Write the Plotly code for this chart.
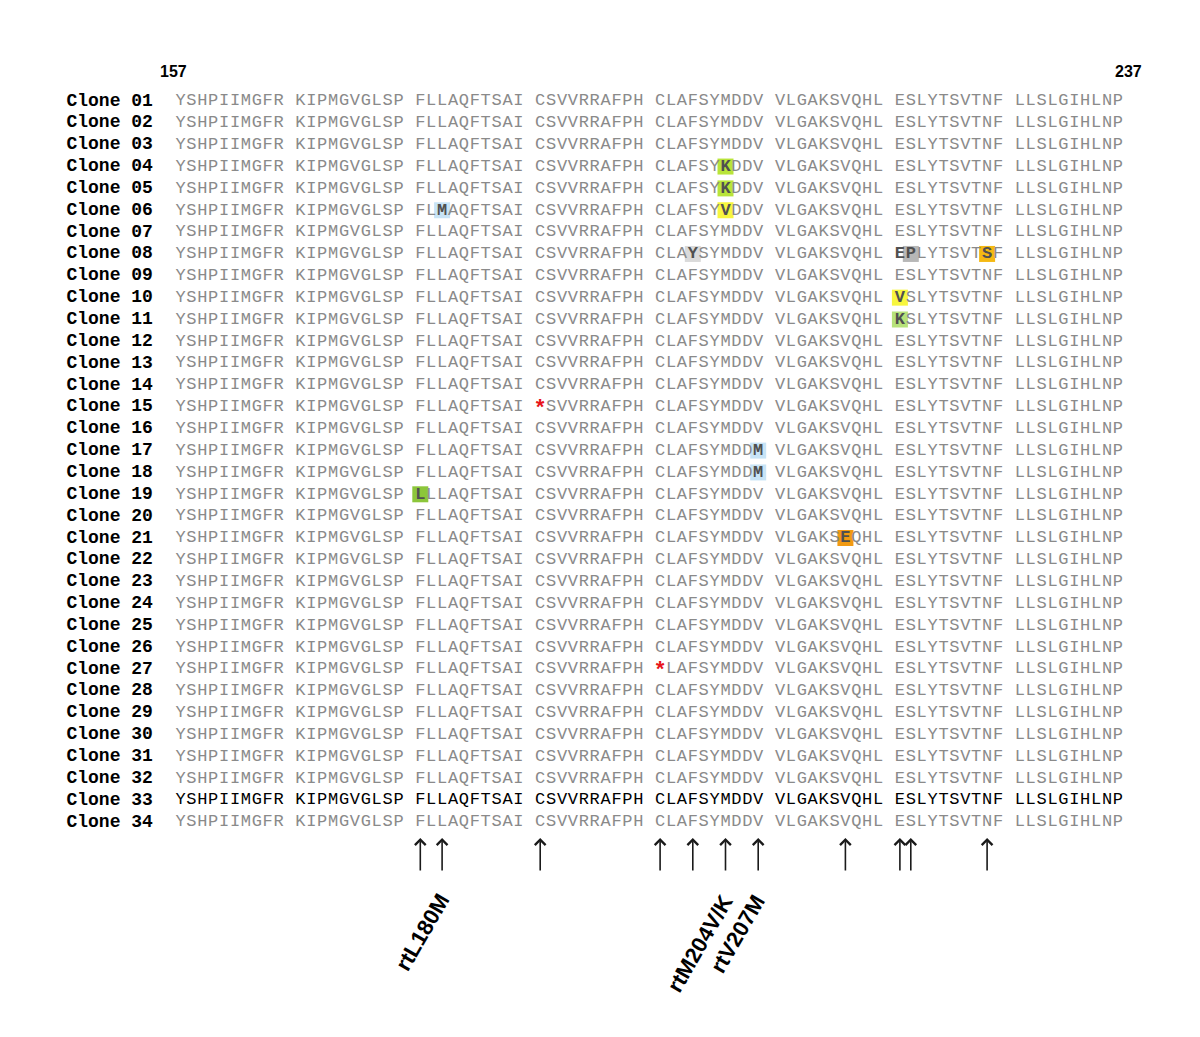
import plotly.graph_objects as go

# =============================================================================
# DATA
# =============================================================================

# consensus RT sequence, 80 residues shown in blocks of ten
SEQUENCE = ("YSHPIIMGFR" "KIPMGVGLSP" "FLLAQFTSAI" "CSVVRRAFPH"
            "CLAFSYMDDV" "VLGAKSVQHL" "ESLYTSVTNF" "LLSLGIHLNP")
CLONE_NUMBERS = list(range(1, 35))
REFERENCE_CLONE = 33          # printed in black
START_LABEL = "157"
END_LABEL = "237"

# substitutions (clone, residue index in SEQUENCE, new amino acid, highlight)
SUB_CLONE = [4, 5, 6, 6, 8, 8, 8, 10, 11, 17, 18, 19, 21]
SUB_RESIDUE = [46, 46, 22, 46, 43, 61, 68, 60, 60, 49, 49, 20, 56]
SUB_AA = ['K', 'K', 'M', 'V', 'Y', 'P', 'S', 'V', 'K', 'M', 'M', 'L', 'E']
SUB_GROUP = ['lime', 'lime', 'blue', 'yellow', 'grey', 'darkgrey', 'gold',
             'yellow', 'palegreen', 'blue', 'blue', 'green', 'orange']

# residues written bold without a highlight
BOLD_CLONE = [8]
BOLD_RESIDUE = [60]

# stop codons
STOP_CLONE = [15, 27]
STOP_RESIDUE = [30, 40]

# arrows under the alignment and the named resistance sites
SITE_RESIDUES = [20, 22, 30, 40, 43, 46, 49, 56, 60, 61, 68]
LABEL_RESIDUE = [22, 46, 49]
LABEL_TEXT = ['rtL180M', 'rtM204V/K', 'rtV207M']

# =============================================================================
# STYLE
# =============================================================================

HIGHLIGHT = {
    'lime': '#b9e43a',
    'palegreen': '#b6e27a',
    'green': '#8cc63a',
    'yellow': '#f7f63e',
    'blue': '#c8e4f6',
    'grey': '#dadada',
    'darkgrey': '#b7b7b7',
    'gold': '#f5b912',
    'orange': '#f29a12',
}
MONO = 'Liberation Mono, Courier New, monospace'
SANS = 'Liberation Sans, Arial, sans-serif'
SEQ_GREY = '#8a8a8a'

# pixel geometry of the page (the page body adds an 8px margin)
W, H = 1200, 1037
BODY = 8
COL0_PX, COL_PX = 180.5 - BODY, 10.9
ROW0_PX, ROW_PX = 101 - BODY, 21.85


def col_of(r):
    """Column of residue r, counting the blank between blocks."""
    return r + r // 10


def row_of(clone):
    return CLONE_NUMBERS.index(clone)


fig = go.Figure()

# highlight boxes
fig.add_trace(go.Scatter(
    x=[col_of(r) for r in SUB_RESIDUE],
    y=[row_of(c) for c in SUB_CLONE],
    mode='markers',
    marker=dict(symbol='square', size=16, color=[HIGHLIGHT[g] for g in SUB_GROUP],
                line=dict(width=0)),
    hoverinfo='skip', showlegend=False,
))

# plain residues
changed = set(zip(SUB_CLONE, SUB_RESIDUE)) | set(zip(STOP_CLONE, STOP_RESIDUE)) \
    | set(zip(BOLD_CLONE, BOLD_RESIDUE))
for clone in CLONE_NUMBERS:
    xs, ys, ts = [], [], []
    for r, aa in enumerate(SEQUENCE):
        if (clone, r) in changed:
            continue
        xs.append(col_of(r))
        ys.append(row_of(clone))
        ts.append(aa)
    colour = 'black' if clone == REFERENCE_CLONE else SEQ_GREY
    fig.add_trace(go.Scatter(
        x=xs, y=ys, text=ts, mode='text',
        textfont=dict(family=MONO, size=17, color=colour),
        hoverinfo='skip', showlegend=False,
    ))

# substituted residues, bold
fig.add_trace(go.Scatter(
    x=[col_of(r) for r in SUB_RESIDUE + BOLD_RESIDUE],
    y=[row_of(c) for c in SUB_CLONE + BOLD_CLONE],
    text=SUB_AA + [SEQUENCE[r] for r in BOLD_RESIDUE],
    mode='text',
    textfont=dict(family=MONO, size=17, color='#505050', weight='bold'),
    hoverinfo='skip', showlegend=False,
))

# stop codons
fig.add_trace(go.Scatter(
    x=[col_of(r) for r in STOP_RESIDUE],
    y=[row_of(c) + 0.12 for c in STOP_CLONE],
    text=['*'] * len(STOP_CLONE),
    mode='text',
    textfont=dict(family=MONO, size=22, color='#e8141a', weight='bold'),
    hoverinfo='skip', showlegend=False,
))

# clone names
fig.add_trace(go.Scatter(
    x=[-6.5] * len(CLONE_NUMBERS),
    y=[row_of(c) for c in CLONE_NUMBERS],
    text=[f"Clone {c:02d}" for c in CLONE_NUMBERS],
    mode='text',
    textfont=dict(family=MONO, size=18, color='black', weight='bold'),
    hoverinfo='skip', showlegend=False,
))

# position numbers
last_row = len(CLONE_NUMBERS) - 1
fig.add_annotation(x=col_of(0), y=-1.33, text=START_LABEL, showarrow=False,
                   xshift=-7, font=dict(family=SANS, size=16, color='black', weight='bold'))
fig.add_annotation(x=col_of(len(SEQUENCE) - 1) + 1, y=-1.33, text=END_LABEL, showarrow=False,
                   font=dict(family=SANS, size=16, color='black', weight='bold'))

# arrows
for r in SITE_RESIDUES:
    fig.add_annotation(
        x=col_of(r), y=last_row + 0.73, text='', showarrow=True,
        ax=0, ay=34, arrowhead=4, arrowsize=1.3, arrowwidth=1.6,
        arrowcolor='#1a1a1a', standoff=0,
    )

# site labels
for r, label in zip(LABEL_RESIDUE, LABEL_TEXT):
    fig.add_annotation(
        x=col_of(r), y=last_row + 3.0, text=label, showarrow=False,
        textangle=-60, xanchor='right', yanchor='top', xshift=15,
        font=dict(family=SANS, size=22, color='black', weight='bold'),
    )

fig.update_layout(
    width=W, height=H,
    margin=dict(l=0, r=0, t=0, b=0),
    paper_bgcolor='white', plot_bgcolor='white',
    xaxis=dict(range=[-COL0_PX / COL_PX, (W - COL0_PX) / COL_PX],
               visible=False, fixedrange=True),
    yaxis=dict(range=[(H - ROW0_PX) / ROW_PX, -ROW0_PX / ROW_PX],
               visible=False, fixedrange=True),
    showlegend=False,
)

fig.write_html("out.html")
